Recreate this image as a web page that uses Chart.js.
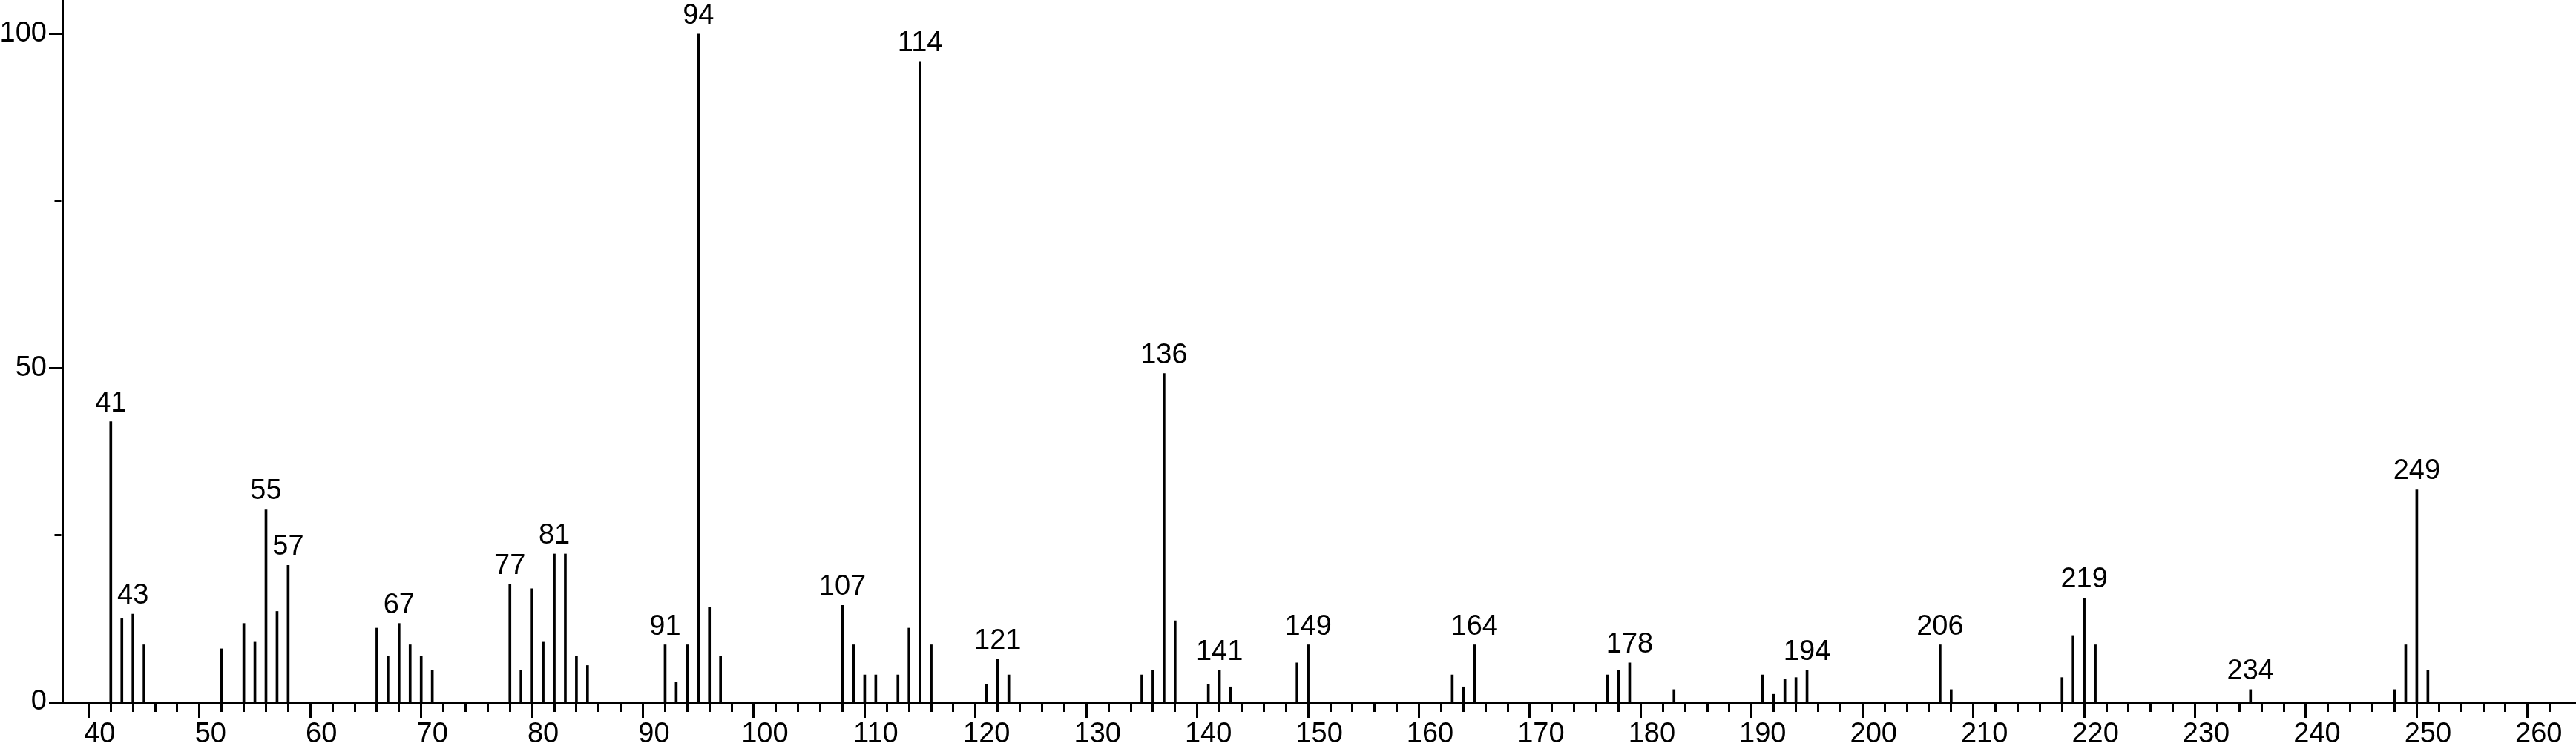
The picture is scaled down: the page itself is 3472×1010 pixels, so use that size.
<!DOCTYPE html>
<html>
<head>
<meta charset="utf-8">
<title>Mass spectrum</title>
<script src="https://cdn.jsdelivr.net/npm/chart.js@4.4.0/dist/chart.umd.min.js"></script>
<style>
    html, body { margin: 0; padding: 0; background: #fff; overflow: hidden; }
    #wrap { position: relative; width: 3472px; height: 1010px; }
</style>
</head>
<body>
<div id="wrap"><canvas id="spectrumChart"></canvas></div>
<script>
// m/z of each peak
const masses = [41, 42, 43, 44, 51, 53, 54, 55, 56, 57, 65, 66, 67, 68, 69, 70,
    77, 78, 79, 80, 81, 82, 83, 84, 91, 92, 93, 94, 95, 96,
    107, 108, 109, 110, 112, 113, 114, 115, 120, 121, 122,
    134, 135, 136, 137, 140, 141, 142, 148, 149, 162, 163, 164,
    176, 177, 178, 182, 190, 191, 192, 193, 194, 206, 207,
    217, 218, 219, 220, 234, 247, 248, 249, 250];
// relative intensity (%)
const intensities = [42.0, 12.5, 13.2, 8.6, 8.0, 11.8, 9.0, 28.8, 13.6, 20.5, 11.1, 6.9, 11.8, 8.6, 6.9, 4.8,
    17.7, 4.8, 17.0, 9.0, 22.2, 22.2, 6.9, 5.5, 8.6, 3.0, 8.6, 100, 14.2, 6.9,
    14.5, 8.6, 4.1, 4.1, 4.1, 11.1, 95.9, 8.6, 2.7, 6.4, 4.1,
    4.1, 4.8, 49.2, 12.2, 2.7, 4.8, 2.3, 5.9, 8.6, 4.1, 2.3, 8.6,
    4.1, 4.8, 5.9, 1.9, 4.1, 1.2, 3.4, 3.7, 4.8, 8.6, 1.9,
    3.7, 10.0, 15.6, 8.6, 1.9, 1.9, 8.6, 31.8, 4.8];
// peaks that carry a number above them
const labeledMasses = [41, 43, 55, 57, 67, 77, 81, 91, 94, 107, 114, 121, 136, 141, 149, 164, 178, 194, 206, 219, 234, 249];

// axis ticks
const xMajorTicks = [40, 50, 60, 70, 80, 90, 100, 110, 120, 130, 140, 150, 160, 170, 180, 190, 200, 210, 220, 230, 240, 250, 260];
const yTicks = [0, 25, 50, 75, 100];
const yLabels = [0, 50, 100];

const xTicks = [];
for (let v = xMajorTicks[0]; v <= xMajorTicks[xMajorTicks.length - 1]; v += 2) {
    xTicks.push(v);
}

const FONT = { family: "'Liberation Sans', Arial, sans-serif", size: 38 };

// numbers above the labelled peaks
const peakLabels = {
    id: 'peakLabels',
    afterDatasetsDraw(chart) {
        const meta = chart.getDatasetMeta(0);
        const ctx = chart.ctx;
        ctx.save();
        ctx.fillStyle = '#000';
        ctx.font = FONT.size + 'px ' + FONT.family;
        ctx.textAlign = 'center';
        ctx.textBaseline = 'alphabetic';
        labeledMasses.forEach(function(m) {
            const idx = masses.indexOf(m);
            const bar = meta.data[idx];
            ctx.fillText(String(m), bar.x, bar.y - 14);
        });
        ctx.restore();
    }
};

const ctx = document.getElementById('spectrumChart').getContext('2d');
const spectrumChart = new Chart(ctx, {
    type: 'bar',
    data: {
        datasets: [{
            data: masses.map((m, i) => ({ x: m, y: intensities[i] })),
            backgroundColor: '#000',
            borderWidth: 0,
            barThickness: 3
        }]
    },
    options: {
        responsive: true,
        maintainAspectRatio: false,
        animation: false,
        layout: { padding: 0 },
        plugins: {
            legend: { display: false },
            tooltip: { enabled: false }
        },
        scales: {
            x: {
                type: 'linear',
                offset: false,
                min: 36.63,
                max: 263.36,
                afterBuildTicks: function(scale) {
                    scale.ticks = xTicks.map(v => ({ value: v }));
                },
                afterFit: function(scale) {
                    scale.height = 63;
                    scale.paddingLeft = 0;
                    scale.paddingRight = 0;
                },
                border: { display: true, color: '#000', width: 3 },
                grid: {
                    display: true,
                    drawOnChartArea: false,
                    drawTicks: true,
                    tickLength: 21,
                    tickWidth: 3,
                    tickColor: '#000',
                    // short ticks every 2, long ones every 10
                    tickBorderDash: function(c) {
                        return c.tick && c.tick.value % 10 === 0 ? [] : [11, 100];
                    }
                },
                ticks: {
                    autoSkip: false,
                    maxRotation: 0,
                    padding: 0,
                    color: '#000',
                    font: FONT,
                    callback: function(value) {
                        return value % 10 === 0 ? String(value) : '';
                    }
                }
            },
            y: {
                min: 0,
                max: 105.1,
                afterBuildTicks: function(scale) {
                    scale.ticks = yTicks.map(v => ({ value: v }));
                },
                afterFit: function(scale) {
                    scale.width = 84;
                    scale.paddingTop = 0;
                    scale.paddingBottom = 0;
                },
                border: { display: true, color: '#000', width: 3 },
                grid: {
                    display: true,
                    drawOnChartArea: false,
                    drawTicks: true,
                    tickLength: 18,
                    tickWidth: 3,
                    tickColor: '#000',
                    tickBorderDash: function(c) {
                        return c.tick && c.tick.value % 50 === 0 ? [] : [0, 7.5, 9, 100];
                    }
                },
                ticks: {
                    autoSkip: false,
                    padding: 3,
                    color: '#000',
                    font: FONT,
                    callback: function(value) {
                        return yLabels.indexOf(value) >= 0 ? String(value) : '';
                    }
                }
            }
        }
    },
    plugins: [peakLabels]
});
</script>
</body>
</html>
